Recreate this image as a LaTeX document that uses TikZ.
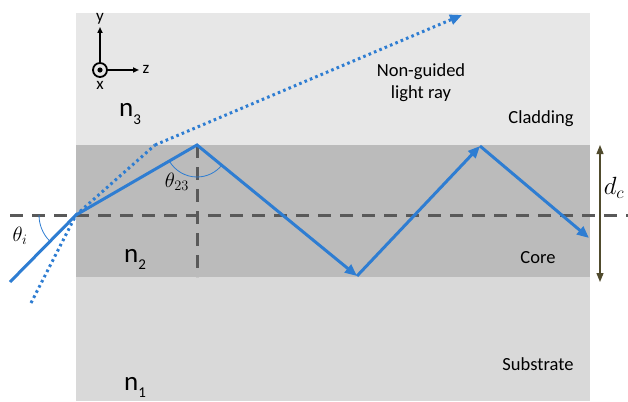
\documentclass[tikz,border=0pt]{standalone}
\usepackage{fontspec}
\setmainfont{Carlito}
\usetikzlibrary{arrows.meta,angles}
\definecolor{ray}{RGB}{46,125,210}
\definecolor{guide}{RGB}{89,89,89}
\definecolor{dim}{RGB}{80,75,45}
\definecolor{clad}{RGB}{231,231,231}
\definecolor{core}{RGB}{187,187,187}
\definecolor{subs}{RGB}{217,217,217}
\tikzset{
	beam/.style={ray, line width=3pt},
	leak/.style={ray, line width=3pt, dash pattern=on 2.6pt off 3.2pt},
	tip/.style={-{Triangle[length=12pt,width=10pt]}},
	helper/.style={guide, line width=3pt, dash pattern=on 13pt off 9pt},
	axisline/.style={black, line width=1.6pt, -{Triangle[length=6pt,width=5pt]}},
	label/.style={font=\fontsize{18.5}{22}\selectfont, inner sep=0pt},
	index/.style={font=\fontsize{27}{30}\selectfont, inner sep=0pt, anchor=base west},
	angmark/.style={ray, line width=0.8pt},
	symb/.style={font=\fontsize{22}{26}\selectfont, inner sep=0pt},
}
\newcommand{\nidx}[1]{n\raisebox{-7pt}{\fontsize{15}{15}\selectfont #1}}
\begin{document}
\begin{tikzpicture}[x=1pt,y=-1pt]
		\useasboundingbox (0,0) rectangle (628,401);
		\fill[clad] (76,13) rectangle (590,145);
		\fill[core] (76,145) rectangle (590,277);
		\fill[subs] (76,277) rectangle (590,401);
		\coordinate (in) at (10,282);
		\coordinate (ghost) at (31,303);
		\coordinate (E) at (76,215);
		\coordinate (L) at (10,215);
		\coordinate (Rt) at (628,215);
		\coordinate (P1) at (197,145);
		\coordinate (B1) at (197,277);
		\coordinate (P2) at (357,276);
		\coordinate (P3) at (480,146);
		\coordinate (P4) at (589,238);
		\coordinate (Q) at (155,145);
		\coordinate (R) at (462,15);
		\draw[helper] (L) -- (Rt);
		\draw[helper] (P1) -- (B1);
		\draw[leak] (ghost) -- (E) -- (Q);
		\draw[leak, tip] (Q) -- (R);
		\draw[beam, tip] (in) -- (E) -- (P1) -- (P2);
		\draw[beam, tip] (P2) -- (P3);
		\draw[beam, tip] (P3) -- (P4);
		\pic[draw, angmark, angle radius=37pt] {angle = L--E--in};
		\pic[draw, angmark, angle radius=32pt] {angle = E--P1--P2};
		\coordinate (dtop) at (600,145);
		\coordinate (dbot) at (600,282);
		\draw[dim, line width=1.2pt, {Triangle[length=9pt,width=7pt]}-{Triangle[length=9pt,width=7pt]}] (dtop) -- (dbot);
		\node[symb, font=\fontsize{24}{28}\selectfont] (dc) at (614,188) {$d_c$};
		\node[symb] (thi) at (20,236) {$\theta_i$};
		\node[symb] (th23) at (177,182) {$\theta_{23}$};
		\node[draw, circle, line width=1.8pt, minimum size=14pt, inner sep=0pt] (ox) at (100,70) {};
		\fill (ox.center) circle (2.6pt);
		\coordinate (ytip) at (100,27);
		\coordinate (ztip) at (139,70);
		\draw[axisline] (ox.north) -- (ytip);
		\draw[axisline] (ox.east) -- (ztip);
		\node[font=\fontsize{17}{20}\selectfont, inner sep=0pt] (ylab) at (100,19) {y};
		\node[font=\fontsize{17}{20}\selectfont, inner sep=0pt] (zlab) at (146,69) {z};
		\node[font=\fontsize{17}{20}\selectfont, inner sep=0pt] (xlab) at (100,85) {x};
		\node[index] (n3) at (119,117) {\nidx{3}};
		\node[index] (n2) at (124,262) {\nidx{2}};
		\node[index] (n1) at (124,390) {\nidx{1}};
		\node[label, align=center] (ng) at (421,83) {Non-guided\\light ray};
		\node[label, anchor=base] (clab) at (541,123) {Cladding};
		\node[label, anchor=base] (corelab) at (538,263) {Core};
		\node[label, anchor=base] (slab) at (538,370) {Substrate};
\end{tikzpicture}
\end{document}
